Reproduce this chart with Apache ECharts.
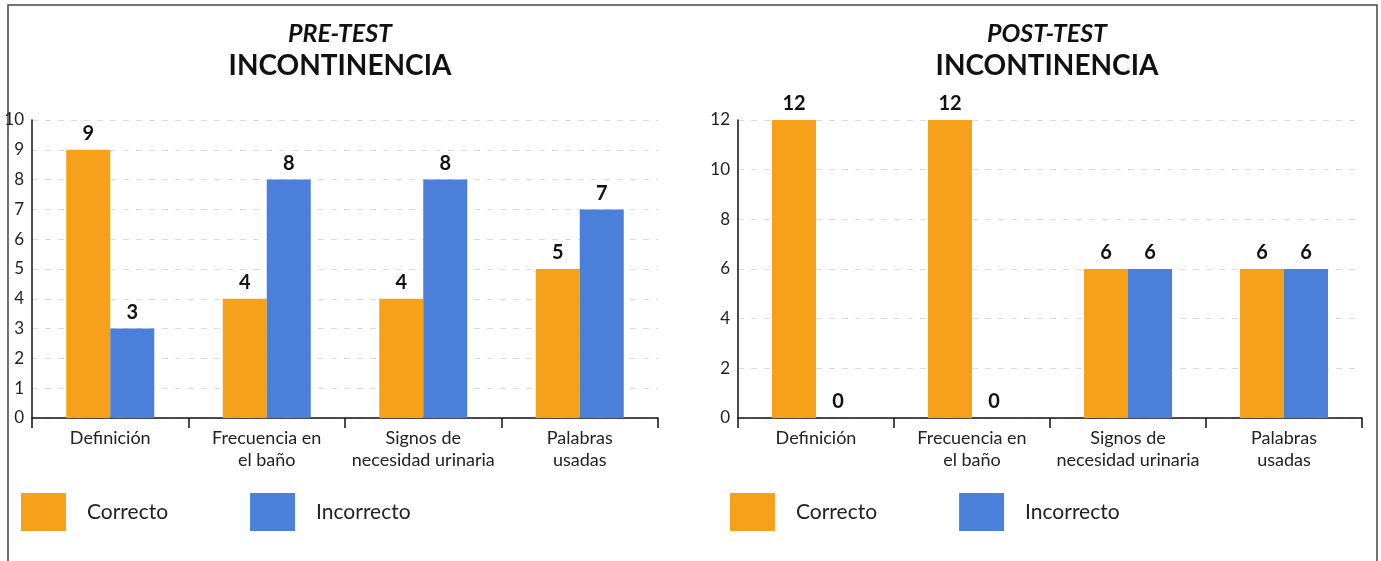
<!DOCTYPE html>
<html><head><meta charset="utf-8">
<script src="https://cdn.jsdelivr.net/npm/echarts@6/dist/echarts.min.js"></script>
<style>html,body{margin:0;padding:0;background:#fff}#c{width:1381px;height:561px}</style>
</head><body><div id="c"></div>
<script>
const categories = ['Definición', 'Frecuencia en\nel baño', 'Signos de\nnecesidad urinaria', 'Palabras\nusadas'];
const seriesNames = ['Correcto', 'Incorrecto'];
const preCorrecto = [9, 4, 4, 5];
const preIncorrecto = [3, 8, 8, 7];
const postCorrecto = [12, 12, 6, 6];
const postIncorrecto = [0, 0, 6, 6];
const titles = ['PRE-TEST', 'POST-TEST'];
const subtitle = 'INCONTINENCIA';

const ORANGE = '#F7A11B', BLUE = '#4A80DA';
const FONT = 'Lato, "Open Sans", sans-serif';

const chart = echarts.init(document.getElementById('c'));

function xAx(i){
  return {type:'category', gridIndex:i, data:categories,
    axisLine:{lineStyle:{color:'#111', width:1.5}},
    axisTick:{show:true, length:10, lineStyle:{color:'#111', width:1.5}},
    axisLabel:{color:'#222', fontSize:18, fontFamily:FONT, lineHeight:22, margin:9, interval:0}};
}
function yAx(i, max, interval){
  return {type:'value', gridIndex:i, min:0, max:max, interval:interval,
    axisLine:{show:true, lineStyle:{color:'#111', width:1.5}},
    axisTick:{show:false},
    splitLine:{show:true, lineStyle:{color:'#dcdcdc', type:[6,7], width:1}},
    axisLabel:{color:'#222', fontSize:17, fontFamily:FONT, margin:8}};
}
function bar(name, data, i, color){
  return {name:name, type:'bar', xAxisIndex:i, yAxisIndex:i, data:data,
    barWidth:44, barGap:'0%', itemStyle:{color:color},
    label:{show:true, position:'top', distance:6, color:'#111', fontSize:20, fontWeight:'bold', fontFamily:FONT}};
}
function title(i, x){
  return {text:titles[i], subtext:subtitle, left:x, top:16, textAlign:'center', itemGap:6,
    textStyle:{fontSize:25, fontStyle:'italic', fontWeight:'bold', color:'#111', fontFamily:FONT},
    subtextStyle:{fontSize:28, fontWeight:'bold', color:'#111', fontFamily:FONT}};
}
function legend(x){
  return {data:seriesNames, left:x, top:493, padding:0, orient:'horizontal', icon:'rect',
    itemWidth:45, itemHeight:38, itemGap:82,
    textStyle:{fontSize:21, color:'#222', fontFamily:FONT, padding:[0,0,0,16]}};
}

chart.setOption({
  animation:false,
  title:[title(0, 335), title(1, 1042)],
  legend:[legend(21), legend(730)],
  grid:[
    {left:32, right:723, top:120, bottom:143},
    {left:738, right:19, top:120, bottom:143}
  ],
  xAxis:[xAx(0), xAx(1)],
  yAxis:[yAx(0, 10, 1), yAx(1, 12, 2)],
  series:[
    bar(seriesNames[0], preCorrecto, 0, ORANGE),
    bar(seriesNames[1], preIncorrecto, 0, BLUE),
    bar(seriesNames[0], postCorrecto, 1, ORANGE),
    bar(seriesNames[1], postIncorrecto, 1, BLUE)
  ],
  graphic:[
    {type:'polyline', shape:{points:[[8,561],[8,5],[1377,5],[1377,561]]}, style:{stroke:'#444', lineWidth:1.5, fill:null}, silent:true}
  ]
});
</script></body></html>
